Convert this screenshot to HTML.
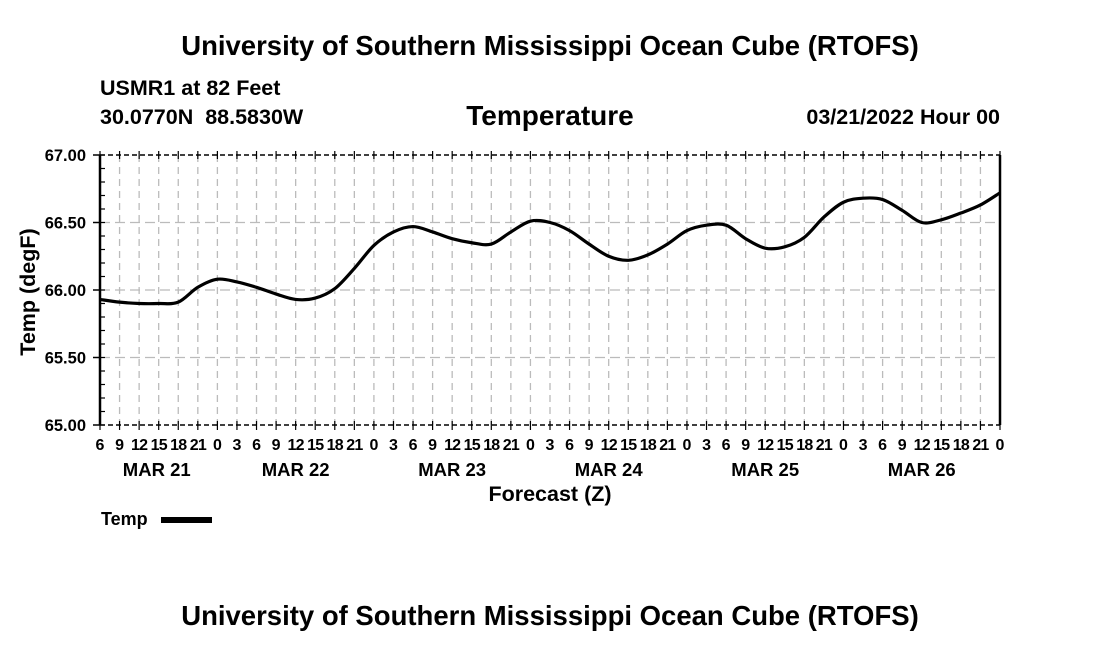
<!DOCTYPE html>
<html><head><meta charset="utf-8"><style>
body{margin:0;background:#fff;}
svg{display:block;font-family:"Liberation Sans",Arial,sans-serif;font-weight:bold;}
</style></head><body>
<svg id="c" width="1100" height="650" viewBox="0 0 1100 650">
<text x="550" y="55" text-anchor="middle" font-size="27.5">University of Southern Mississippi Ocean Cube (RTOFS)</text>
<text x="100" y="95" font-size="21.5">USMR1 at 82 Feet</text>
<text x="100" y="124" font-size="21.5">30.0770N&#160;&#160;88.5830W</text>
<text x="550" y="125" text-anchor="middle" font-size="28">Temperature</text>
<text x="1000" y="124" text-anchor="end" font-size="21.5">03/21/2022 Hour 00</text>
<g id="grid"></g>
<g id="axes"></g>
<path id="line" fill="none" stroke="#000" stroke-width="3.2"/>
<text x="550" y="501" text-anchor="middle" font-size="21.5">Forecast (Z)</text>
<text transform="translate(35,292) rotate(-90)" text-anchor="middle" font-size="21.5">Temp (degF)</text>
<g>
<text x="101" y="525" font-size="18">Temp</text>
<rect x="161" y="517" width="51" height="6" fill="#000"/>
</g>
<text x="550" y="625" text-anchor="middle" font-size="27.5">University of Southern Mississippi Ocean Cube (RTOFS)</text>
</svg>
<script>
const hourLabels=["6","9","12","15","18","21","0","3","6","9","12","15","18","21","0","3","6","9","12","15","18","21","0","3","6","9","12","15","18","21","0","3","6","9","12","15","18","21","0","3","6","9","12","15","18","21","0"];
const dayLabels=["MAR 21","MAR 22","MAR 23","MAR 24","MAR 25","MAR 26"];
const dayLabelIdx=[2.9,10,18,26,34,42];
const yTicks=[65.00,65.50,66.00,66.50,67.00];
const temps=[65.93,65.91,65.90,65.90,65.91,66.02,66.08,66.06,66.02,65.97,65.93,65.94,66.01,66.16,66.33,66.43,66.47,66.43,66.38,66.35,66.34,66.43,66.51,66.50,66.44,66.34,66.25,66.22,66.26,66.34,66.44,66.48,66.48,66.38,66.31,66.32,66.39,66.54,66.65,66.68,66.67,66.59,66.50,66.52,66.57,66.63,66.72];
const X0=100,X1=1000,Y0=425,Y1=155,ymin=65,ymax=67;
const n=hourLabels.length-1;
const xs=i=>X0+(X1-X0)*i/n;
const ys=v=>Y0-(Y0-Y1)*(v-ymin)/(ymax-ymin);
const NS="http://www.w3.org/2000/svg";
function mk(tag,attrs,parent){const e=document.createElementNS(NS,tag);for(const k in attrs)e.setAttribute(k,attrs[k]);parent.appendChild(e);return e;}
const grid=document.getElementById('grid'),axes=document.getElementById('axes');
for(let i=1;i<n;i++){
 const g=mk('line',{x1:xs(i),x2:xs(i),y1:Y1,y2:Y0,stroke:'#bbb','stroke-width':1.3,'stroke-dasharray':'7,5'},grid);
 
 
}
yTicks.forEach(v=>{
 if(v>ymin&&v<ymax){const g=mk('line',{x1:X0,x2:X1,y1:ys(v),y2:ys(v),stroke:'#bbb','stroke-width':1.3,'stroke-dasharray':'10,5'},grid);
 
 }
 const t=mk('text',{x:X0-14,y:ys(v)+6,'text-anchor':'end','font-size':16.5},axes);t.textContent=v.toFixed(2);
 
 
 mk('line',{x1:X0-7,x2:X0,y1:ys(v),y2:ys(v),stroke:'#000','stroke-width':1.5},axes);
});
for(let k=0;k<=20;k++){const y=Y0-(Y0-Y1)*k/20;mk('line',{x1:X0,x2:X0+5,y1:y,y2:y,stroke:'#000','stroke-width':1.2},axes);}
mk('line',{x1:X0,x2:X0,y1:Y1,y2:Y0,stroke:'#000','stroke-width':2.5},axes);
mk('line',{x1:X1,x2:X1,y1:Y1,y2:Y0,stroke:'#000','stroke-width':2.5},axes);
mk('line',{x1:X0,x2:X1,y1:Y1,y2:Y1,stroke:'#000','stroke-width':1.5,'stroke-dasharray':'5,3'},axes);
mk('line',{x1:X0,x2:X1,y1:Y0,y2:Y0,stroke:'#000','stroke-width':1.5,'stroke-dasharray':'5,3'},axes);
hourLabels.forEach((h,i)=>{
 mk('line',{x1:xs(i),x2:xs(i),y1:Y1-4,y2:Y1+4,stroke:'#000','stroke-width':1.2},axes);
 mk('line',{x1:xs(i),x2:xs(i),y1:Y0-4,y2:Y0+5,stroke:'#000','stroke-width':1.2},axes);
 const t=mk('text',{x:xs(i),y:450,'text-anchor':'middle','font-size':16,'letter-spacing':h.length>1?'-0.8':'0'},axes);t.textContent=h;
 
 
});
dayLabels.forEach((d,j)=>{
 const t=mk('text',{x:xs(dayLabelIdx[j]),y:476,'text-anchor':'middle','font-size':18.5},axes);t.textContent=d;
 
 
});
const P=temps.map((v,i)=>[xs(i),ys(v)]);
let d='M'+P[0][0]+','+P[0][1];
for(let i=0;i<P.length-1;i++){
 const p0=P[Math.max(0,i-1)],p1=P[i],p2=P[i+1],p3=P[Math.min(P.length-1,i+2)];
 const c1=[p1[0]+(p2[0]-p0[0])/6,p1[1]+(p2[1]-p0[1])/6],c2=[p2[0]-(p3[0]-p1[0])/6,p2[1]-(p3[1]-p1[1])/6];
 d+=` C${c1[0]},${c1[1]} ${c2[0]},${c2[1]} ${p2[0]},${p2[1]}`;
}
document.getElementById('line').setAttribute('d',d);
</script>
</body></html>
